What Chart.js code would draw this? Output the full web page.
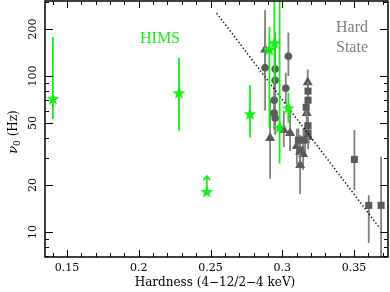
<!DOCTYPE html>
<html>
<head>
<meta charset="utf-8">
<script src="https://cdn.jsdelivr.net/npm/chart.js@4.4.1/dist/chart.umd.min.js"></script>
<style>
  html, body { margin: 0; padding: 0; background: #fff; }
  #wrap { width: 390px; height: 292px; }
</style>
</head>
<body>
<div id="wrap"><canvas id="chart"></canvas></div>
<script>
// axis ticks
const xTicks = [0.15, 0.2, 0.25, 0.3, 0.35];
const yTicks = [10, 20, 50, 100, 200];

// HIMS (green stars)
const himsX  = [0.1402, 0.2280, 0.2775, 0.2910, 0.2945, 0.3042, 0.2981];
const himsY  = [71, 77.4, 56.8, 147, 162, 62, 46.7];
const himsLo = [53, 44.5, 40.4, 47, 90, 50, 27.5];
const himsHi = [178, 131, 87.5, 207, 400, 78, 400];

// HIMS lower limit
const limX   = [0.2474];
const limY   = [18];
const limTop = [22.8];

// Hard state: triangles
const triX  = [0.2880, 0.2915, 0.3054, 0.3101, 0.3124, 0.3145, 0.3124, 0.3159, 0.3177, 0.3170, 0.3180, 0.3010];
const triY  = [148, 40, 43, 35.5, 32.6, 31.5, 26.8, 39, 91, 57.8, 40.5, 45];
const triLo = [100, 22, 33, 27, 25, 25, 17.5, 31, 78, 50, 34, 35];
const triHi = [265, 70, 60, 46, 42, 40, 33, 50, 110, 67, 48, 60];

// Hard state: squares
const sqX  = [0.3179, 0.3179, 0.3166, 0.3179, 0.3179, 0.3112, 0.3147, 0.3124, 0.3502, 0.3602, 0.3688];
const sqY  = [80, 70, 63, 48, 43, 38.8, 38.8, 33.5, 29.2, 14.8, 14.8];
const sqLo = [70, 61, 55, 42, 38, 33, 33, 28, 18.5, 8.5, 5];
const sqHi = [92, 80, 72, 55, 50, 46, 46, 40, 45, 17.2, 30.3];

// Hard state: circles
const circX  = [0.2880, 0.3042, 0.3024, 0.2950, 0.2950, 0.2943, 0.2943, 0.2950];
const circY  = [113, 134, 83.5, 111, 94, 70, 57.8, 53.7];
const circLo = [60, 100, 66, 75, 70, 55, 45, 42];
const circHi = [197, 190, 105, 190, 130, 90, 75, 68];

// dotted relation
const fitX = [0.2543, 0.3681];
const fitY = [253, 10.5];

const GREEN = "#14f014";
const GREY = "#5a5a5a";
const GREY_ERR = "#808080";

function pts(xs, ys) {
    return xs.map((x, i) => ({ x: x, y: ys[i] }));
}

function starImage(r, color) {
    const c = document.createElement("canvas");
    c.width = c.height = Math.ceil(r * 2 + 2);
    const g = c.getContext("2d");
    const cx = c.width / 2, cy = c.height / 2;
    g.beginPath();
    for (let i = 0; i < 10; i++) {
        const rr = i % 2 === 0 ? r : r * 0.42;
        const a = -Math.PI / 2 + i * Math.PI / 5;
        g.lineTo(cx + rr * Math.cos(a), cy + rr * Math.sin(a));
    }
    g.closePath();
    g.fillStyle = color;
    g.fill();
    return c;
}

const star = starImage(6.8, GREEN);

const decorations = {
    id: "decorations",
    beforeDatasetDraw(chart, args) {
        const ds = chart.data.datasets[args.index];
        if (!ds.lo) return;
        const { ctx, chartArea: a, scales: { x, y } } = chart;
        ctx.save();
        ctx.beginPath();
        ctx.rect(a.left, a.top, a.right - a.left, a.bottom - a.top);
        ctx.clip();
        ctx.strokeStyle = ds.errColor;
        ctx.lineWidth = 1.8;
        ds.data.forEach((p, i) => {
            const px = x.getPixelForValue(p.x);
            ctx.beginPath();
            ctx.moveTo(px, y.getPixelForValue(ds.lo[i]));
            ctx.lineTo(px, y.getPixelForValue(ds.hi[i]));
            ctx.stroke();
        });
        if (ds.limit) {
            limX.forEach((v, i) => {
                const px = x.getPixelForValue(v);
                const y0 = y.getPixelForValue(limY[i]);
                const y1 = y.getPixelForValue(limTop[i]);
                ctx.beginPath();
                ctx.moveTo(px, y0);
                ctx.lineTo(px, y1);
                ctx.moveTo(px - 3.5, y1 + 4);
                ctx.lineTo(px, y1);
                ctx.lineTo(px + 3.5, y1 + 4);
                ctx.stroke();
            });
        }
        ctx.restore();
    },
    afterDraw(chart) {
        const { ctx, chartArea: a, scales: { x, y } } = chart;
        ctx.save();
        ctx.strokeStyle = "#000";
        ctx.lineWidth = 1;

        // x ticks, top and bottom
        for (let k = 14; k <= 37; k++) {
            const v = k / 100;
            const px = Math.round(x.getPixelForValue(v)) + 0.5;
            const major = k % 5 === 0;
            const len = major ? 7 : 4;
            ctx.beginPath();
            ctx.moveTo(px, a.bottom); ctx.lineTo(px, a.bottom - len);
            ctx.moveTo(px, a.top); ctx.lineTo(px, a.top + len);
            ctx.stroke();
        }

        // y ticks, left and right
        for (let d = 1; d <= 100; d *= 10) {
            for (let m = 1; m <= 9; m++) {
                const v = m * d;
                if (v < y.min || v > y.max) continue;
                const py = Math.round(y.getPixelForValue(v)) + 0.5;
                const len = yTicks.includes(v) ? 8 : 4;
                ctx.beginPath();
                ctx.moveTo(a.left, py); ctx.lineTo(a.left + len, py);
                ctx.moveTo(a.right, py); ctx.lineTo(a.right - len, py);
                ctx.stroke();
            }
        }

        // frame
        ctx.lineWidth = 1.5;
        ctx.strokeRect(a.left, a.top, a.right - a.left, a.bottom - a.top);

        // y tick labels, rotated
        ctx.fillStyle = "#000";
        ctx.font = "11px 'DejaVu Serif'";
        ctx.textAlign = "center";
        ctx.textBaseline = "middle";
        yTicks.forEach(v => {
            const py = y.getPixelForValue(v);
            ctx.save();
            ctx.translate(33, py);
            ctx.rotate(-Math.PI / 2);
            ctx.fillText(String(v), 0, 0);
            ctx.restore();
        });

        // y title: nu_0 (Hz)
        ctx.save();
        ctx.translate(13, 132);
        ctx.rotate(-Math.PI / 2);
        ctx.textAlign = "left";
        ctx.textBaseline = "alphabetic";
        const fNu = "italic 13px 'DejaVu Serif'";
        const fSub = "9px 'DejaVu Serif'";
        const fMain = "12px 'DejaVu Serif'";
        ctx.font = fNu; const wNu = ctx.measureText("ν").width;
        ctx.font = fSub; const wSub = ctx.measureText("0").width;
        ctx.font = fMain; const wRest = ctx.measureText(" (Hz)").width;
        let tx = -(wNu + wSub + wRest) / 2;
        ctx.font = fNu; ctx.fillText("ν", tx, 4); tx += wNu;
        ctx.font = fSub; ctx.fillText("0", tx, 7); tx += wSub;
        ctx.font = fMain; ctx.fillText(" (Hz)", tx, 4);
        ctx.restore();

        // x title
        ctx.font = "12px 'DejaVu Serif'";
        ctx.textAlign = "center";
        ctx.textBaseline = "middle";
        ctx.fillText("Hardness (4\u221212/2\u22124 keV)", 215, 283);

        // annotations
        ctx.font = "16px 'Liberation Serif'";
        ctx.fillStyle = GREEN;
        ctx.fillText("HIMS", 160, 39);
        ctx.fillStyle = "#808080";
        ctx.fillText("Hard", 352, 28);
        ctx.fillText("State", 352, 48);
        ctx.restore();
    }
};

new Chart(document.getElementById("chart"), {
    type: "scatter",
    data: {
        datasets: [
            {
                label: "HIMS",
                data: pts(himsX, himsY),
                lo: himsLo, hi: himsHi, errColor: GREEN,
                pointStyle: star, pointRadius: 7
            },
            {
                label: "HIMS limit",
                data: pts(limX, limY),
                lo: limY, hi: limY, errColor: GREEN, limit: true,
                pointStyle: star, pointRadius: 7
            },
            {
                label: "fit",
                type: "line",
                data: pts(fitX, fitY),
                borderColor: "#000",
                borderWidth: 1.4,
                borderDash: [1.4, 2.2],
                pointRadius: 0,
                fill: false
            },
            {
                label: "circles",
                data: pts(circX, circY),
                lo: circLo, hi: circHi, errColor: GREY_ERR,
                pointStyle: "circle", pointRadius: 3.8,
                backgroundColor: GREY, borderColor: GREY, borderWidth: 0
            },
            {
                label: "squares",
                data: pts(sqX, sqY),
                lo: sqLo, hi: sqHi, errColor: GREY_ERR,
                pointStyle: "rect", pointRadius: 5,
                backgroundColor: GREY, borderColor: GREY, borderWidth: 0
            },
            {
                label: "triangles",
                data: pts(triX, triY),
                lo: triLo, hi: triHi, errColor: GREY_ERR,
                pointStyle: "triangle", pointRadius: 5.8,
                backgroundColor: GREY, borderColor: GREY, borderWidth: 0
            }
        ]
    },
    options: {
        responsive: true,
        maintainAspectRatio: false,
        animation: false,
        layout: { autoPadding: false, padding: { top: 1, right: 2, left: 0, bottom: 0 } },
        plugins: { legend: { display: false }, tooltip: { enabled: false } },
        scales: {
            x: {
                type: "linear",
                min: 0.1347,
                max: 0.3736,
                grid: { display: false, drawTicks: false },
                border: { display: false },
                afterBuildTicks: s => { s.ticks = xTicks.map(v => ({ value: v })); },
                afterFit: s => { s.height = 35; },
                ticks: {
                    autoSkip: false,
                    maxRotation: 0,
                    padding: 5,
                    color: "#000",
                    font: { family: "DejaVu Serif", size: 11 },
                    callback: v => String(v)
                }
            },
            y: {
                type: "logarithmic",
                min: 6.9,
                max: 303,
                grid: { display: false, drawTicks: false },
                border: { display: false },
                ticks: { display: false },
                afterFit: s => { s.width = 45; }
            }
        }
    },
    plugins: [decorations]
});
</script>
</body>
</html>
